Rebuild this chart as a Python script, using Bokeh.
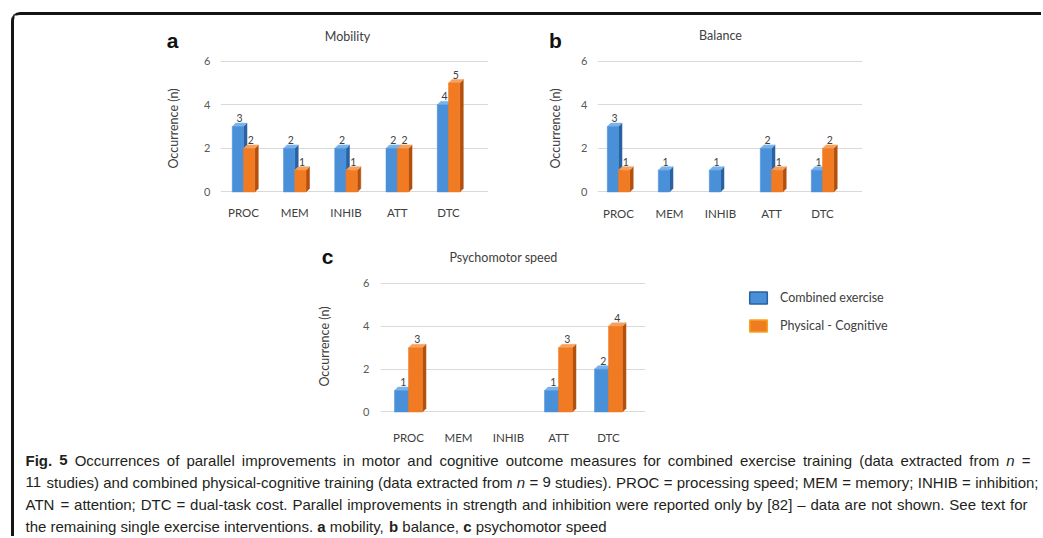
from bokeh.plotting import figure
from bokeh.models import (Range1d, FixedTicker, Legend, LegendItem, Spacer)
from bokeh.layouts import row, column
from bokeh.embed import file_html
from bokeh.resources import INLINE
from bokeh.core.properties import value

# ---------------- data ----------------
categories = ["PROC", "MEM", "INHIB", "ATT", "DTC"]
series_names = ["Combined exercise", "Physical - Cognitive"]
y_ticks = [0, 2, 4, 6]

mobility_combined = [3, 2, 2, 2, 4]
mobility_physcog = [2, 1, 1, 2, 5]
balance_combined = [3, 1, 1, 2, 1]
balance_physcog = [1, 0, 0, 1, 2]
speed_combined = [1, 0, 0, 1, 2]
speed_physcog = [3, 0, 0, 3, 4]

panel_titles = ["Mobility", "Balance", "Psychomotor speed"]
panel_letters = ["a", "b", "c"]
y_axis_label = "Occurrence (n)"

caption_lines = [
    "Fig. 5 Occurrences of parallel improvements in motor and cognitive outcome measures "
    "for combined exercise training (data extracted from n =",
    "11 studies) and combined physical-cognitive training (data extracted from n = 9 studies). "
    "PROC = processing speed; MEM = memory; INHIB = inhibition;",
    "ATN = attention; DTC = dual-task cost. Parallel improvements in strength and inhibition "
    "were reported only by [82] \u2013 data are not shown. See text for",
    "the remaining single exercise interventions. a mobility, b balance, c psychomotor speed",
]

# ---------------- style ----------------
CHART_FONT = "Lato"
TXT = "#404040"
TICK = "#595959"
GRID = "#d9d9d9"
FRONT = ["#4a90d9", "#f07b22"]
SIDE = ["#2a61a3", "#b3500e"]
TOP = ["#79b3ec", "#f6a25e"]
SWATCH_EDGE = ["#2e5f9e", "#f5a623"]

ORIGIN_X, ORIGIN_Y = 14, 15   # page position of the bordered content box
CONTENT_W = 1027


def make_panel(spec, combined, physcog):
    gl, gt, gr, gb = spec["fig"]
    fl, ft, fr, fb = spec["frame"]
    x0, x1 = spec["xr"]
    y0, y1 = spec["yr"]
    p = figure(width=gr - gl, height=gb - gt,
               x_range=Range1d(x0, x1), y_range=Range1d(y0, y1),
               output_backend="svg", toolbar_location=None,
               min_border_left=fl - gl, min_border_right=gr - fr,
               min_border_top=ft - gt, min_border_bottom=gb - fb)
    p.outline_line_color = None
    p.background_fill_color = "white"
    p.border_fill_color = "white"

    p.xaxis.ticker = FixedTicker(ticks=list(range(len(categories))))
    p.xaxis.major_label_overrides = {i: c for i, c in enumerate(categories)}
    p.yaxis.ticker = FixedTicker(ticks=y_ticks)
    for ax in (p.xaxis[0], p.yaxis[0]):
        ax.axis_line_color = None
        ax.major_tick_line_color = None
        ax.minor_tick_line_color = None
        ax.major_tick_out = 0
        ax.major_tick_in = 0
        ax.major_label_text_font = CHART_FONT
    p.xaxis.major_label_text_font_size = "11.5px"
    p.xaxis.major_label_text_color = TXT
    p.xaxis.major_label_standoff = spec["xstand"]
    p.yaxis.major_label_text_font_size = "11px"
    p.yaxis.major_label_text_color = TICK
    p.yaxis.major_label_standoff = spec["ystand"]
    p.yaxis.axis_label = y_axis_label
    p.yaxis.axis_label_text_font = CHART_FONT
    p.yaxis.axis_label_text_font_style = "normal"
    p.yaxis.axis_label_text_font_size = "12.5px"
    p.yaxis.axis_label_text_color = TXT
    p.yaxis.axis_label_standoff = spec["lstand"]
    p.xgrid.visible = False
    p.ygrid.ticker = FixedTicker(ticks=y_ticks)
    p.ygrid.grid_line_color = GRID
    p.ygrid.grid_line_width = 1

    kx = (fr - fl) / (x1 - x0)
    ky = (fb - ft) / (y1 - y0)
    bw = spec["bw"]
    dx = 3.5 / kx
    dy = 3.5 / ky

    for s, vals in enumerate([combined, physcog]):
        L, R, T = [], [], []
        sxs, sys_, txs, tys = [], [], [], []
        lx, ly, lt = [], [], []
        for i, v in enumerate(vals):
            if v <= 0:
                continue
            left = i - bw + s * bw
            right = left + bw
            L.append(left); R.append(right); T.append(v)
            sxs.append([right, right + dx, right + dx, right])
            sys_.append([0, dy, v + dy, v])
            txs.append([left, right, right + dx, left + dx])
            tys.append([v, v, v + dy, v + dy])
            lx.append((left + right) / 2 + dx / 2)
            ly.append(v + dy)
            lt.append(str(v))
        p.patches(sxs, sys_, fill_color=SIDE[s], line_color=SIDE[s], line_width=0.5)
        p.patches(txs, tys, fill_color=TOP[s], line_color=TOP[s], line_width=0.5)
        p.quad(left=L, right=R, bottom=0, top=T, fill_color=FRONT[s],
               line_color=FRONT[s], line_width=0.5)
        p.text(x=lx, y=ly, text=lt, text_font=value(CHART_FONT), text_font_size="10.5px",
               text_color=TXT, text_align="center", text_baseline="bottom", y_offset=-1)
    return p


# ---------------- panels ----------------
spec_a = dict(fig=(150, 53, 495, 230), frame=(220, 56, 488, 200),
              xr=(-0.449, 4.78), yr=(-0.39, 6.216), bw=0.22,
              xstand=5, ystand=10, lstand=20)
spec_b = dict(fig=(527, 53, 869, 230), frame=(597, 56, 862, 200),
              xr=(-0.412, 4.784), yr=(-0.39, 6.216), bw=0.22,
              xstand=6, ystand=10, lstand=15)
spec_c = dict(fig=(310, 268, 652, 446), frame=(380, 272, 645, 420),
              xr=(-0.56, 4.74), yr=(-0.397, 6.513), bw=0.28,
              xstand=10, ystand=11, lstand=28)

pa = make_panel(spec_a, mobility_combined, mobility_physcog)
pb = make_panel(spec_b, balance_combined, balance_physcog)
pc = make_panel(spec_c, speed_combined, speed_physcog)

# ---------------- headers (panel letters and titles) ----------------
LETTER_SIZE, TITLE_SIZE = 21, 12.5


def strip(height):
    f = figure(width=CONTENT_W, height=height, x_range=Range1d(0, CONTENT_W),
               y_range=Range1d(height, 0), output_backend="svg", toolbar_location=None,
               min_border=0, x_axis_type=None, y_axis_type=None, title=None)
    f.outline_line_color = None
    f.grid.visible = False
    return f


def header(top, height, letters, titles):
    # positions are given as page baselines; converted to em-box centres
    f = strip(height)
    f.text(x=[x - ORIGIN_X for x, _, _ in letters],
           y=[y - top - 0.3465 * LETTER_SIZE for _, y, _ in letters],
           text=[t for _, _, t in letters], text_font=value("Liberation Sans"),
           text_font_style="bold", text_font_size=f"{LETTER_SIZE}px", text_color="#111111",
           text_align="center", text_baseline="middle")
    f.text(x=[x - ORIGIN_X for x, _, _ in titles],
           y=[y - top - 0.387 * TITLE_SIZE for _, y, _ in titles],
           text=[t for _, _, t in titles], text_font=value(CHART_FONT),
           text_font_size=f"{TITLE_SIZE}px", text_color=TXT,
           text_align="center", text_baseline="middle")
    return f


h1 = header(15, 38, [(172, 47, panel_letters[0]), (555, 47, panel_letters[1])],
            [(347, 40.5, panel_titles[0]), (720, 40, panel_titles[1])])
h2 = header(230, 38, [(327, 263.5, panel_letters[2])], [(503, 261.5, panel_titles[2])])

# ---------------- legend ----------------
LG_W, LG_H = 278, 178
lf = figure(width=LG_W, height=LG_H, x_range=Range1d(0, 1), y_range=Range1d(0, 1),
            output_backend="svg", toolbar_location=None, min_border=0,
            x_axis_type=None, y_axis_type=None, title=None)
lf.outline_line_color = None
lf.grid.visible = False
swatches = []
for s in range(2):
    # swatch renderers: sit outside the visible range, only the legend shows them
    swatches.append(lf.quad(left=[5], right=[6], top=[6], bottom=[5], fill_color=FRONT[s],
                            line_color=SWATCH_EDGE[s], line_width=1.5))
lg = Legend(items=[LegendItem(label=series_names[s], renderers=[swatches[s]]) for s in range(2)],
            location=(85, 77), orientation="vertical",
            glyph_width=22, glyph_height=15, label_height=15, spacing=13,
            label_standoff=11, padding=10, margin=0,
            label_text_font=CHART_FONT, label_text_font_size="12.5px",
            label_text_color=TXT, border_line_alpha=0, background_fill_alpha=0)
lf.add_layout(lg, "center")

# ---------------- caption (justified like the reference) ----------------
HELV = {' ': 278, '(': 333, ')': 333, ',': 278, '-': 333, '.': 278, ';': 278, '=': 584,
        '[': 278, ']': 278, '\u2013': 556, ':': 278,
        'A': 667, 'B': 667, 'C': 722, 'D': 722, 'E': 667, 'F': 611, 'G': 778, 'H': 722,
        'I': 278, 'J': 500, 'K': 667, 'L': 556, 'M': 833, 'N': 722, 'O': 778, 'P': 667,
        'Q': 778, 'R': 722, 'S': 667, 'T': 611, 'U': 722, 'V': 667, 'W': 944, 'X': 667,
        'Y': 667, 'Z': 611,
        'a': 556, 'b': 556, 'c': 500, 'd': 556, 'e': 556, 'f': 278, 'g': 556, 'h': 556,
        'i': 222, 'j': 222, 'k': 500, 'l': 222, 'm': 833, 'n': 556, 'o': 556, 'p': 556,
        'q': 556, 'r': 333, 's': 500, 't': 278, 'u': 556, 'v': 500, 'w': 722, 'x': 500,
        'y': 500, 'z': 500}
HELV_BOLD = {'F': 611, 'i': 278, 'g': 611, '.': 278, '5': 556, 'a': 556, 'b': 611, 'c': 556}


def tw(s, size, bold=False):
    tot = 0
    for ch in s:
        if bold and ch in HELV_BOLD:
            tot += HELV_BOLD[ch]
        elif ch.isdigit():
            tot += 556
        else:
            tot += HELV.get(ch, 556)
    return tot * size / 1000.0


CAP_H = 90
CAP_TOP = 446
CAP_SIZE = 15
line_base = [465, 487, 509, 531]        # page baselines
line_right = [1030, 1038, 1027, None]   # justified right edges
cap_start = 25
words = {"r": ([], [], []), "b": ([], [], []), "i": ([], [], [])}
for li, line in enumerate(caption_lines):
    toks = line.split(" ")
    styles = []
    for ti, t in enumerate(toks):
        if li == 0 and ti < 2:
            styles.append("b")
        elif li == 3 and t in ("a", "b", "c"):
            styles.append("b")
        elif t == "n":
            styles.append("i")
        else:
            styles.append("r")
    widths = [tw(t, CAP_SIZE, st == "b") for t, st in zip(toks, styles)]
    sp = tw(" ", CAP_SIZE)
    if line_right[li] is not None:
        gap = (line_right[li] - cap_start - sum(widths)) / (len(toks) - 1)
    else:
        gap = sp
    x = cap_start
    for t, st, w in zip(toks, styles, widths):
        words[st][0].append(x - ORIGIN_X)
        words[st][1].append(line_base[li] - CAP_TOP - 0.3465 * CAP_SIZE)
        words[st][2].append(t)
        x += w + gap

cap = strip(CAP_H)
style_map = {"r": "normal", "b": "bold", "i": "italic"}
for st, (xs, ys, ts) in words.items():
    if not ts:
        continue
    cap.text(x=xs, y=ys, text=ts, text_font=value("Liberation Sans"),
             text_font_style=style_map[st], text_font_size=f"{CAP_SIZE}px",
             text_color="#231f20", text_baseline="middle", text_align="left")

# ---------------- layout ----------------
row1 = column(h1, row(Spacer(width=spec_a["fig"][0] - ORIGIN_X, height=177), pa,
                      Spacer(width=spec_b["fig"][0] - spec_a["fig"][2], height=177), pb))
row2 = column(h2, row(Spacer(width=spec_c["fig"][0] - ORIGIN_X, height=178), pc, lf))
inner = column(row1, row2, cap,
               styles={"border-top": "3px solid #151515", "border-left": "3px solid #151515",
                       "border-top-left-radius": "9px", "background-color": "white"})
outer = column(Spacer(width=10, height=12), row(Spacer(width=11, height=10), inner))

open("out.html", "w").write(file_html(outer, INLINE))
